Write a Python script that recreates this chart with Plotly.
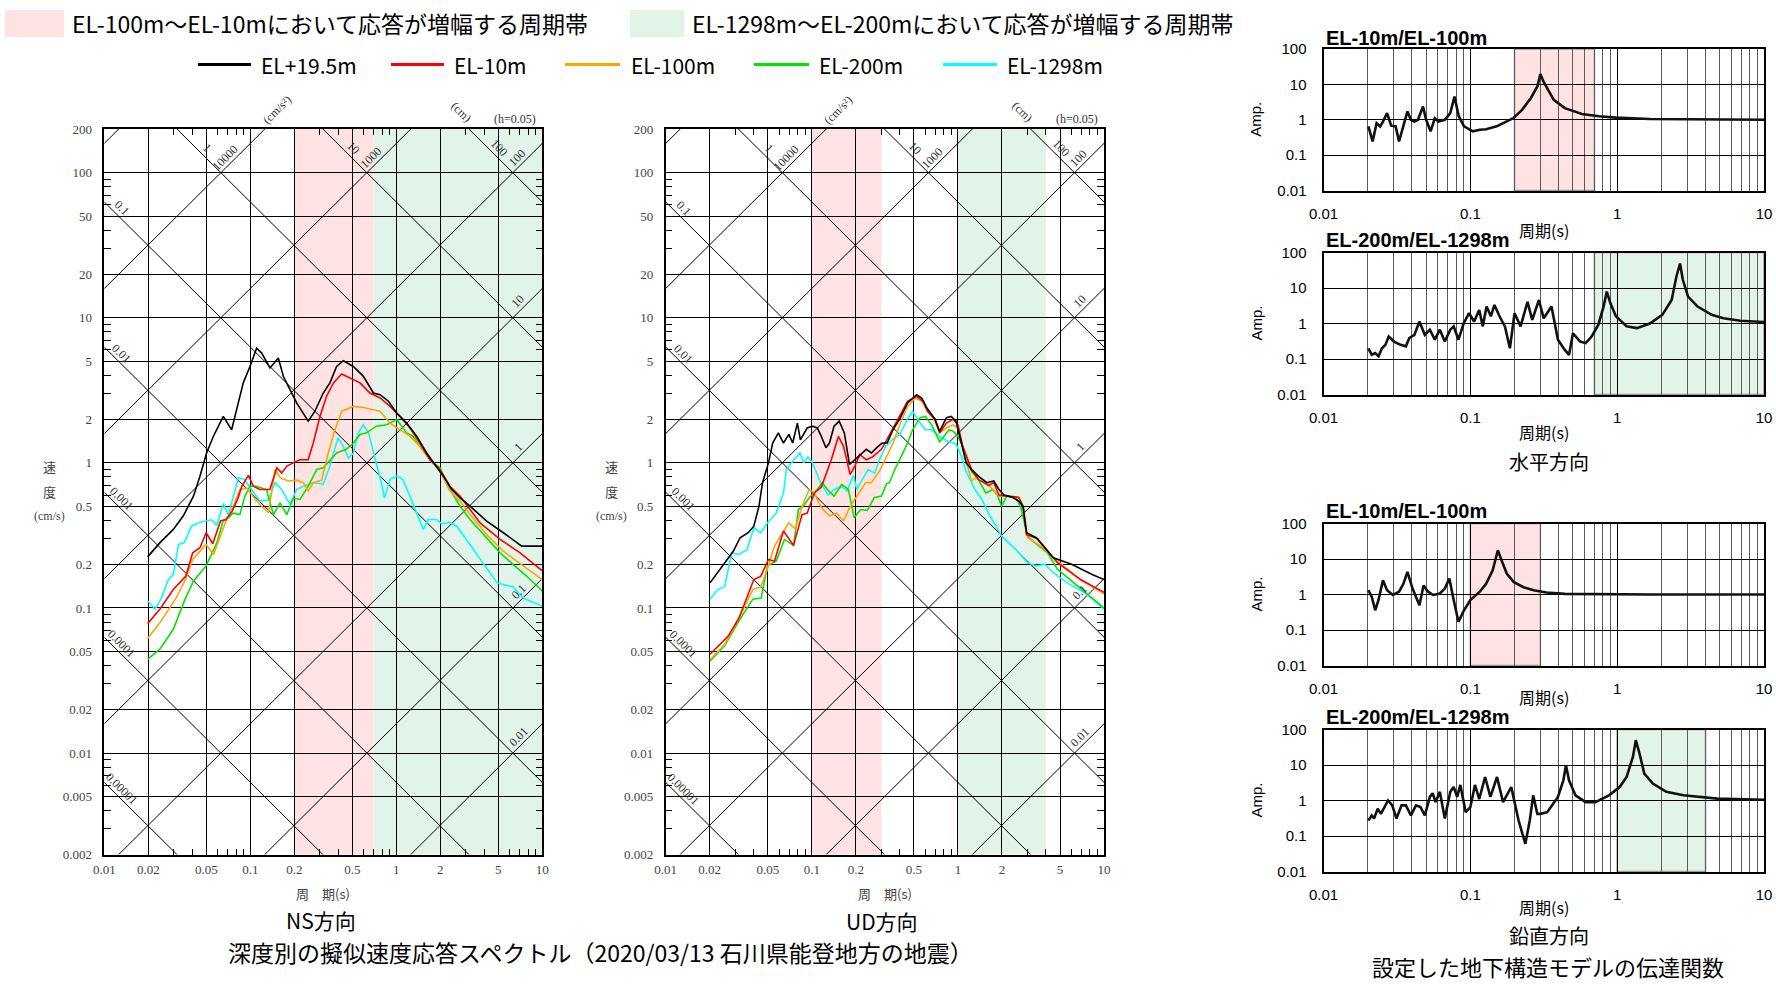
import numpy as np
import plotly.graph_objects as go

W, H = 1776, 984

# ------------------------------------------------------------------ data
# NS direction pseudo-velocity response spectra (period s, Sv cm/s)
NS_T_EL195 = [0.0198, 0.024, 0.0297, 0.0347, 0.0408, 0.0452, 0.0502, 0.0558, 0.0653, 0.0745, 0.0806, 0.0895, 0.0995, 0.1105, 0.1196, 0.1364, 0.1556, 0.1683, 0.187, 0.2076, 0.2493, 0.277, 0.316, 0.351, 0.390, 0.434, 0.508, 0.595, 0.697, 0.774, 0.883, 1.005, 1.178, 1.378, 1.614, 1.889, 2.10, 2.40, 2.735, 3.2, 4.16, 5.41, 7.23, 10]
NS_SV_EL195 = [0.225, 0.281, 0.348, 0.43, 0.59, 0.81, 1.17, 1.52, 2.09, 1.69, 2.33, 3.56, 4.62, 6.18, 5.71, 4.51, 5.28, 3.95, 3.2, 2.59, 1.94, 2.27, 3.03, 3.56, 4.62, 5.06, 4.62, 3.95, 3.03, 2.95, 2.66, 2.21, 1.88, 1.53, 1.17, 0.95, 0.81, 0.655, 0.574, 0.503, 0.397, 0.33, 0.267, 0.267]
NS_T_EL10 = [0.0198, 0.024, 0.0297, 0.0362, 0.0403, 0.0452, 0.0498, 0.0553, 0.0626, 0.068, 0.0752, 0.0825, 0.0875, 0.097, 0.105, 0.1165, 0.136, 0.152, 0.164, 0.178, 0.197, 0.219, 0.249, 0.270, 0.300, 0.333, 0.371, 0.423, 0.482, 0.564, 0.660, 0.774, 0.906, 1.06, 1.24, 1.45, 1.70, 1.99, 2.33, 2.73, 3.75, 5.14, 7.05, 10]
NS_SV_EL10 = [0.078, 0.098, 0.134, 0.166, 0.24, 0.26, 0.33, 0.277, 0.40, 0.405, 0.465, 0.574, 0.69, 0.82, 0.69, 0.655, 0.655, 0.925, 0.853, 0.95, 1.0, 1.05, 1.05, 1.37, 2.09, 2.88, 3.56, 4.10, 3.85, 3.56, 3.03, 2.80, 2.45, 2.09, 1.74, 1.37, 1.05, 0.90, 0.69, 0.59, 0.386, 0.297, 0.24, 0.18]
NS_T_EL100 = [0.0198, 0.024, 0.031, 0.036, 0.0403, 0.0498, 0.056, 0.0626, 0.068, 0.076, 0.085, 0.094, 0.1165, 0.133, 0.148, 0.160, 0.182, 0.2076, 0.2307, 0.2493, 0.270, 0.308, 0.342, 0.380, 0.423, 0.508, 0.595, 0.774, 0.906, 1.06, 1.24, 1.45, 1.70, 1.99, 2.33, 2.73, 3.2, 4.16, 5.41, 7.41, 10]
NS_SV_EL100 = [0.0615, 0.079, 0.117, 0.157, 0.216, 0.274, 0.234, 0.32, 0.395, 0.50, 0.655, 0.67, 0.517, 0.453, 0.90, 0.79, 0.75, 0.76, 0.73, 0.64, 0.73, 0.76, 1.17, 1.69, 2.27, 2.45, 2.41, 2.27, 1.88, 1.69, 1.53, 1.30, 1.05, 0.877, 0.64, 0.545, 0.44, 0.32, 0.246, 0.195, 0.157]
NS_T_EL200 = [0.0198, 0.024, 0.0297, 0.0357, 0.0408, 0.0498, 0.059, 0.0652, 0.0707, 0.076, 0.0848, 0.0919, 0.0995, 0.110, 0.129, 0.144, 0.160, 0.178, 0.197, 0.219, 0.249, 0.285, 0.316, 0.390, 0.455, 0.508, 0.564, 0.625, 0.730, 0.86, 1.005, 1.178, 1.30, 1.45, 1.70, 1.99, 2.33, 2.735, 3.2, 4.16, 5.14, 6.3, 7.8, 10]
NS_SV_EL200 = [0.0443, 0.052, 0.0713, 0.1146, 0.153, 0.195, 0.281, 0.40, 0.418, 0.45, 0.44, 0.59, 0.69, 0.69, 0.655, 0.44, 0.53, 0.44, 0.57, 0.56, 0.69, 0.90, 0.925, 1.17, 1.24, 1.37, 1.57, 1.61, 1.79, 1.83, 1.99, 1.61, 1.53, 1.30, 1.05, 0.925, 0.655, 0.503, 0.407, 0.305, 0.24, 0.2, 0.166, 0.131]
NS_T_EL1298 = [0.0198, 0.0223, 0.0247, 0.0275, 0.0297, 0.0322, 0.0352, 0.0396, 0.0452, 0.0544, 0.059, 0.0653, 0.0707, 0.076, 0.083, 0.091, 0.102, 0.1165, 0.133, 0.148, 0.164, 0.187, 0.2076, 0.2307, 0.270, 0.316, 0.351, 0.398, 0.434, 0.470, 0.508, 0.549, 0.595, 0.645, 0.719, 0.79, 0.83, 0.906, 1.005, 1.11, 1.24, 1.38, 1.53, 1.66, 1.89, 2.05, 2.33, 2.6, 3.2, 3.97, 4.9, 5.4, 6.3, 7.4, 10]
NS_SV_EL1298 = [0.112, 0.098, 0.118, 0.157, 0.17, 0.274, 0.281, 0.366, 0.39, 0.405, 0.37, 0.525, 0.44, 0.575, 0.79, 0.77, 0.655, 0.545, 0.555, 0.73, 0.655, 0.517, 0.655, 0.69, 0.73, 0.715, 0.95, 1.49, 1.30, 1.08, 1.17, 1.61, 1.83, 1.61, 1.05, 0.73, 0.574, 0.77, 0.81, 0.77, 0.59, 0.453, 0.348, 0.407, 0.407, 0.38, 0.39, 0.366, 0.274, 0.2, 0.149, 0.145, 0.14, 0.117, 0.103]

# UD direction
UD_T_EL195 = [0.0201, 0.0253, 0.029, 0.0323, 0.0367, 0.0401, 0.0435, 0.046, 0.0505, 0.054, 0.059, 0.064, 0.0696, 0.074, 0.0797, 0.0835, 0.093, 0.101, 0.109, 0.116, 0.125, 0.132, 0.142, 0.154, 0.167, 0.181, 0.197, 0.213, 0.236, 0.256, 0.277, 0.303, 0.328, 0.359, 0.400, 0.452, 0.521, 0.565, 0.61, 0.697, 0.75, 0.835, 0.90, 0.97, 1.06, 1.14, 1.24, 1.38, 1.58, 1.76, 1.91, 2.07, 2.37, 2.64, 2.79, 2.95, 3.44, 4.5, 6.0, 8.3, 10]
UD_SV_EL195 = [0.149, 0.205, 0.246, 0.305, 0.33, 0.366, 0.503, 0.73, 1.0, 1.37, 1.61, 1.37, 1.57, 1.37, 1.88, 1.44, 1.74, 1.79, 1.74, 1.53, 1.27, 1.37, 1.79, 1.94, 1.61, 0.975, 1.05, 1.14, 1.24, 1.17, 1.27, 1.37, 1.37, 1.69, 2.0, 2.59, 2.95, 2.80, 2.41, 2.0, 1.65, 2.05, 2.09, 1.94, 1.37, 1.0, 0.90, 0.81, 0.73, 0.75, 0.655, 0.6, 0.58, 0.54, 0.50, 0.33, 0.305, 0.222, 0.2, 0.17, 0.157]
UD_T_EL10 = [0.0201, 0.0268, 0.0318, 0.0401, 0.0447, 0.0505, 0.0555, 0.064, 0.075, 0.0857, 0.093, 0.104, 0.116, 0.136, 0.152, 0.165, 0.183, 0.197, 0.213, 0.236, 0.26, 0.30, 0.328, 0.36, 0.40, 0.452, 0.521, 0.58, 0.62, 0.697, 0.75, 0.835, 0.93, 1.0, 1.08, 1.24, 1.38, 1.62, 1.76, 1.91, 2.15, 2.6, 2.8, 2.95, 3.5, 4.8, 6.9, 10]
UD_SV_EL10 = [0.048, 0.064, 0.0857, 0.157, 0.165, 0.216, 0.21, 0.339, 0.27, 0.44, 0.45, 0.62, 0.68, 1.05, 1.52, 1.30, 0.83, 0.95, 1.14, 1.05, 1.1, 1.24, 1.46, 1.74, 2.09, 2.66, 2.87, 2.66, 2.27, 2.0, 1.61, 1.88, 2.0, 1.83, 1.3, 0.90, 0.77, 0.70, 0.73, 0.6, 0.59, 0.58, 0.5, 0.32, 0.3, 0.205, 0.157, 0.128]
UD_T_EL100 = [0.0201, 0.0253, 0.0316, 0.0395, 0.0447, 0.0497, 0.0555, 0.064, 0.0696, 0.077, 0.0857, 0.096, 0.104, 0.115, 0.132, 0.147, 0.165, 0.183, 0.202, 0.233, 0.256, 0.291, 0.32, 0.36, 0.40, 0.452, 0.51, 0.565, 0.62, 0.697, 0.75, 0.835, 0.93, 1.0, 1.1, 1.24, 1.38, 1.55, 1.74, 1.91, 2.15, 2.64, 2.8, 3.0, 3.7, 4.8, 6.9, 10]
UD_SV_EL100 = [0.044, 0.056, 0.084, 0.134, 0.14, 0.185, 0.267, 0.34, 0.386, 0.35, 0.50, 0.655, 0.62, 0.5, 0.43, 0.45, 0.4, 0.5, 0.58, 0.73, 0.73, 0.88, 1.07, 1.37, 1.83, 2.45, 2.8, 2.66, 2.27, 1.94, 1.61, 1.74, 1.83, 1.74, 1.17, 0.75, 0.81, 0.73, 0.655, 0.59, 0.59, 0.57, 0.5, 0.305, 0.267, 0.21, 0.157, 0.125]
UD_T_EL200 = [0.0201, 0.0253, 0.0318, 0.0395, 0.045, 0.0497, 0.057, 0.065, 0.075, 0.081, 0.0885, 0.096, 0.109, 0.118, 0.128, 0.142, 0.16, 0.178, 0.195, 0.216, 0.24, 0.267, 0.3, 0.325, 0.34, 0.37, 0.415, 0.452, 0.49, 0.55, 0.6, 0.66, 0.75, 0.87, 0.93, 1.0, 1.08, 1.24, 1.38, 1.55, 1.74, 1.88, 1.99, 2.15, 2.5, 2.7, 3.0, 4.1, 4.8, 6.9, 10]
UD_SV_EL200 = [0.043, 0.055, 0.082, 0.115, 0.117, 0.195, 0.21, 0.297, 0.27, 0.477, 0.51, 0.575, 0.655, 0.73, 0.655, 0.59, 0.71, 0.655, 0.418, 0.477, 0.47, 0.575, 0.59, 0.72, 0.73, 0.90, 1.14, 1.37, 1.69, 2.05, 2.09, 1.83, 1.40, 1.69, 1.65, 1.53, 1.3, 0.87, 0.77, 0.62, 0.655, 0.59, 0.50, 0.59, 0.58, 0.49, 0.31, 0.24, 0.185, 0.137, 0.1]
UD_T_EL1298 = [0.0201, 0.0227, 0.0253, 0.0283, 0.0316, 0.036, 0.0401, 0.0447, 0.0497, 0.057, 0.064, 0.067, 0.077, 0.083, 0.088, 0.094, 0.101, 0.115, 0.129, 0.142, 0.16, 0.174, 0.193, 0.203, 0.222, 0.243, 0.27, 0.29, 0.32, 0.36, 0.40, 0.452, 0.49, 0.54, 0.6, 0.66, 0.75, 0.835, 0.97, 1.06, 1.14, 1.31, 1.46, 1.62, 2.0, 2.5, 3.0, 3.45, 3.95, 4.5, 5.6, 7.6, 10]
UD_SV_EL1298 = [0.115, 0.134, 0.14, 0.24, 0.234, 0.252, 0.357, 0.33, 0.386, 0.45, 0.62, 0.9, 1.08, 1.17, 1.0, 1.1, 1.0, 0.73, 0.60, 0.655, 0.69, 0.64, 0.82, 0.655, 0.77, 0.90, 0.85, 1.05, 1.3, 1.46, 1.57, 2.0, 2.27, 1.94, 1.69, 1.69, 1.53, 1.42, 1.35, 1.1, 0.87, 0.655, 0.56, 0.45, 0.31, 0.252, 0.205, 0.195, 0.2, 0.175, 0.149, 0.125, 0.098]

# Transfer functions of the subsurface model (period s, amplitude)
TF_H1_T = [0.0202, 0.0216, 0.023, 0.0243, 0.0254, 0.0271, 0.0289, 0.031, 0.0327, 0.035, 0.0373, 0.0394, 0.0416, 0.044, 0.0476, 0.05, 0.0536, 0.0573, 0.0606, 0.067, 0.073, 0.078, 0.0834, 0.0906, 0.104, 0.116, 0.128, 0.151, 0.179, 0.196, 0.225, 0.258, 0.286, 0.30, 0.315, 0.346, 0.37, 0.44, 0.575, 0.75, 0.98, 1.67, 2.86, 4.8, 10]
TF_H1_A = [0.65, 0.245, 0.8, 0.65, 0.89, 1.54, 0.68, 0.65, 0.245, 0.65, 1.72, 1.0, 0.89, 1.0, 2.38, 1.0, 0.47, 1.1, 0.89, 1.0, 1.54, 4.5, 1.26, 0.65, 0.47, 0.52, 0.54, 0.65, 0.89, 1.1, 1.9, 4.07, 8.7, 19.5, 12, 6.3, 3.66, 2.13, 1.45, 1.25, 1.15, 1.05, 1.02, 1.0, 1.0]
TF_H2_T = [0.0202, 0.0213, 0.0225, 0.0237, 0.025, 0.0264, 0.0278, 0.0302, 0.0335, 0.0364, 0.0384, 0.0416, 0.045, 0.049, 0.053, 0.0573, 0.062, 0.067, 0.073, 0.077, 0.083, 0.09, 0.098, 0.106, 0.115, 0.1215, 0.129, 0.138, 0.146, 0.158, 0.172, 0.186, 0.20, 0.22, 0.245, 0.264, 0.293, 0.316, 0.357, 0.395, 0.44, 0.47, 0.5, 0.56, 0.61, 0.67, 0.745, 0.808, 0.85, 0.90, 0.98, 1.16, 1.36, 1.67, 2.03, 2.35, 2.53, 2.68, 2.80, 3.04, 3.53, 4.4, 5.3, 6.9, 10]
TF_H2_A = [0.2, 0.132, 0.147, 0.12, 0.2, 0.25, 0.43, 0.31, 0.25, 0.227, 0.39, 0.48, 1.14, 0.48, 0.67, 0.35, 0.67, 0.31, 0.67, 0.83, 0.35, 1.0, 1.95, 1.14, 2.4, 0.83, 3.0, 1.6, 3.33, 1.6, 0.83, 0.2, 1.95, 0.83, 4.1, 1.26, 4.6, 1.4, 3.0, 0.35, 0.18, 0.13, 0.53, 0.31, 0.28, 0.43, 0.93, 3.0, 7.9, 3.7, 1.6, 0.83, 0.74, 1.0, 1.75, 4.6, 20.8, 49, 17, 5.7, 3.0, 1.75, 1.4, 1.2, 1.1]
TF_V1_T = [0.0202, 0.0213, 0.0225, 0.0237, 0.0254, 0.0271, 0.0297, 0.0327, 0.035, 0.0373, 0.0404, 0.045, 0.048, 0.0515, 0.0558, 0.062, 0.067, 0.072, 0.077, 0.083, 0.0905, 0.1, 0.116, 0.128, 0.142, 0.154, 0.163, 0.177, 0.197, 0.23, 0.27, 0.33, 0.44, 0.75, 1.67, 10]
TF_V1_A = [1.32, 0.87, 0.36, 0.7, 2.5, 1.32, 0.97, 1.2, 2.0, 4.35, 1.47, 0.5, 1.8, 1.2, 0.97, 1.07, 1.47, 2.8, 0.7, 0.17, 0.36, 0.7, 1.2, 2.0, 4.8, 17.7, 9.3, 3.9, 2.27, 1.6, 1.32, 1.14, 1.04, 1.02, 1.0, 1.0]
TF_V2_T = [0.0202, 0.0213, 0.0221, 0.0234, 0.0246, 0.026, 0.0275, 0.0294, 0.0314, 0.034, 0.0364, 0.0394, 0.0426, 0.0458, 0.049, 0.053, 0.0554, 0.058, 0.062, 0.067, 0.073, 0.077, 0.0813, 0.0855, 0.093, 0.1, 0.1075, 0.115, 0.126, 0.137, 0.152, 0.167, 0.19, 0.213, 0.237, 0.254, 0.268, 0.286, 0.30, 0.334, 0.395, 0.43, 0.448, 0.47, 0.52, 0.61, 0.71, 0.88, 1.04, 1.16, 1.28, 1.34, 1.42, 1.53, 1.75, 2.16, 2.83, 4.8, 10]
TF_V2_A = [0.275, 0.38, 0.31, 0.59, 0.42, 0.65, 1.0, 0.73, 0.31, 0.73, 0.73, 0.38, 0.73, 0.65, 0.38, 1.26, 1.6, 0.9, 1.75, 0.31, 1.75, 2.4, 1.26, 2.75, 0.47, 0.65, 2.75, 1.1, 4.6, 1.26, 4.6, 0.9, 2.4, 0.275, 0.06, 0.275, 1.4, 0.42, 0.42, 0.47, 1.26, 3.7, 9.8, 3.7, 1.4, 0.9, 0.9, 1.4, 2.4, 4.6, 16.9, 50, 21, 5.7, 3.0, 1.75, 1.4, 1.13, 1.05]

# Amplified period bands (s)
NS_PINK_BAND = [0.2, 0.7]
NS_GREEN_BAND = [0.7, 10]
UD_PINK_BAND = [0.1, 0.3]
UD_GREEN_BAND = [1.0, 4.0]

SERIES_NAMES = ["EL+19.5m", "EL-10m", "EL-100m", "EL-200m", "EL-1298m"]
SERIES_COLORS = ["#000000", "#ff0000", "#ffa500", "#00e600", "#00ffff"]
PINK = "#ffe3e3"
GREEN = "#e2f4ea"

TRI_XTICKS = [0.01, 0.02, 0.05, 0.1, 0.2, 0.5, 1, 2, 5, 10]
TRI_YTICKS = [200, 100, 50, 20, 10, 5, 2, 1, 0.5, 0.2, 0.1, 0.05, 0.02, 0.01, 0.005, 0.002]
DISP_LABELS = ["0.00001", "0.0001", "0.001", "0.01", "0.1", "1", "10", "100"]
ACC_LABELS = ["0.01", "0.1", "1", "10", "100", "1000", "10000"]

JP = "Noto Sans CJK JP"
SERIF = "Liberation Serif"
SANS = "Liberation Sans"


def px(x):
    return x / W


def py(y):
    return 1 - y / H


fig = go.Figure()

# ------------------------------------------------------------ axes layout
TRI_X = {1: (104.3, 542.3), 2: (665.7, 1104.0)}
TRI_Y = (129.0, 854.5)
RP_X = (1323.5, 1764.0)
RP_Y = {3: (49.0, 190.5), 4: (252.5, 394.5), 5: (523.5, 665.5), 6: (729.5, 871.5)}

minor_x = [m * 10.0 ** e for e in (-2, -1, 0) for m in (3, 4, 6, 7, 8, 9)]
minor_y = [m * 10.0 ** e for e in range(-3, 3) for m in (3, 4, 6, 7, 8, 9)]
minor_y = [v for v in minor_y if 0.002 < v < 200]
rp_minor = [m * 10.0 ** e for e in (-2, -1, 0) for m in range(2, 10)]

layout_axes = {}
for n in (1, 2):
    s = "" if n == 1 else str(n)
    layout_axes["xaxis" + s] = dict(
        type="log", range=[-2, 1], domain=[px(TRI_X[n][0]), px(TRI_X[n][1])],
        anchor="y" + s, tickvals=TRI_XTICKS, ticktext=[str(v) for v in TRI_XTICKS],
        showgrid=True, gridcolor="black", gridwidth=1, zeroline=False, automargin=False,
        showline=True, linecolor="black", linewidth=1.5, mirror="ticks",
        ticks="", tickfont=dict(family=SERIF, size=13, color="#444"),
        minor=dict(tickvals=minor_x, ticks="inside", ticklen=6, tickcolor="black",
                   tickwidth=1, showgrid=False),
        ticklabelstandoff=2,
    )
    layout_axes["yaxis" + s] = dict(
        type="log", range=[np.log10(0.002), np.log10(200)],
        domain=[py(TRI_Y[1]), py(TRI_Y[0])], anchor="x" + s,
        tickvals=TRI_YTICKS, ticktext=[str(v) for v in TRI_YTICKS],
        showgrid=True, gridcolor="black", gridwidth=1, zeroline=False, automargin=False,
        showline=True, linecolor="black", linewidth=1.5, mirror="ticks",
        ticks="", tickfont=dict(family=SERIF, size=13, color="#444"),
        minor=dict(tickvals=minor_y, ticks="inside", ticklen=7, tickcolor="black",
                   tickwidth=1, showgrid=False),
        ticklabelstandoff=8,
    )

for n in (3, 4, 5, 6):
    s = str(n)
    layout_axes["xaxis" + s] = dict(
        type="log", range=[-2, 1], domain=[px(RP_X[0]), px(RP_X[1])], anchor="y" + s,
        tickvals=[0.01, 0.1, 1, 10], ticktext=["0.01", "0.1", "1", "10"],
        showgrid=True, gridcolor="black", gridwidth=1, zeroline=False, automargin=False,
        showline=True, linecolor="black", linewidth=2, mirror=True, ticks="",
        tickfont=dict(family=SANS, size=15, color="black"),
        minor=dict(tickvals=rp_minor, showgrid=True, gridcolor="#5a5a5a", gridwidth=1, ticks=""),
        ticklabelstandoff=8,
    )
    layout_axes["yaxis" + s] = dict(
        type="log", range=[-2, 2], domain=[py(RP_Y[n][1]), py(RP_Y[n][0])], anchor="x" + s,
        tickvals=[0.01, 0.1, 1, 10, 100], ticktext=["0.01", "0.1", "1", "10", "100"],
        showgrid=True, gridcolor="black", gridwidth=1, zeroline=False, automargin=False,
        showline=True, linecolor="black", linewidth=2, mirror=True, ticks="",
        tickfont=dict(family=SANS, size=15, color="black"),
        ticklabelstandoff=12,
    )

# ------------------------------------------------------------ bands (shapes)
shapes = []


def band(xref, yref, lo_hi, color, outline=None):
    shapes.append(dict(
        type="rect", xref=xref, yref=yref + " domain", x0=lo_hi[0], x1=lo_hi[1], y0=0, y1=1,
        fillcolor=color, layer="below",
        line=dict(width=1.5 if outline else 0, color=outline or color),
    ))


band("x", "y", NS_PINK_BAND, PINK)
band("x", "y", NS_GREEN_BAND, GREEN)
band("x2", "y2", UD_PINK_BAND, PINK)
band("x2", "y2", UD_GREEN_BAND, GREEN)
band("x3", "y3", NS_PINK_BAND, PINK, "#9a9a9a")
band("x4", "y4", NS_GREEN_BAND, GREEN, "#9a9a9a")
band("x5", "y5", UD_PINK_BAND, PINK, "#9a9a9a")
band("x6", "y6", UD_GREEN_BAND, GREEN, "#9a9a9a")

annotations = []

# ------------------------------------------------------------ tripartite diagonals
for n in (1, 2):
    s = "" if n == 1 else str(n)
    xs, ys = [], []
    for k in range(-5, 3):   # constant displacement lines, Sv = 2*pi*D/T
        D = 10.0 ** k
        for T in (0.01, 10.0):
            xs.append(T)
            ys.append(2 * np.pi * D / T)
        xs.append(None)
        ys.append(None)
    for k in range(-2, 6):   # constant acceleration lines, Sv = A*T/(2*pi)
        A = 10.0 ** k
        for T in (0.01, 10.0):
            xs.append(T)
            ys.append(A * T / (2 * np.pi))
        xs.append(None)
        ys.append(None)
    fig.add_trace(go.Scatter(x=xs, y=ys, mode="lines", line=dict(color="black", width=1),
                             xaxis="x" + s, yaxis="y" + s, hoverinfo="skip", showlegend=False))
    for lab in DISP_LABELS:
        D = float(lab)
        T = max(0.0122, 2 * np.pi * D / 134.0)
        annotations.append(dict(
            x=np.log10(T), y=np.log10(2 * np.pi * D / T), xref="x" + s, yref="y" + s,
            text=lab, showarrow=False, textangle=45, xshift=5, yshift=6,
            font=dict(family=SERIF, size=12, color="#333")))
    for lab in ACC_LABELS:
        A = float(lab)
        T = min(7.4, 115.0 * 2 * np.pi / A)
        annotations.append(dict(
            x=np.log10(T), y=np.log10(A * T / (2 * np.pi)), xref="x" + s, yref="y" + s,
            text=lab, showarrow=False, textangle=-45, xshift=-5, yshift=6,
            font=dict(family=SERIF, size=12, color="#333")))

# ------------------------------------------------------------ spectra curves
NS = [(NS_T_EL195, NS_SV_EL195), (NS_T_EL10, NS_SV_EL10), (NS_T_EL100, NS_SV_EL100),
      (NS_T_EL200, NS_SV_EL200), (NS_T_EL1298, NS_SV_EL1298)]
UD = [(UD_T_EL195, UD_SV_EL195), (UD_T_EL10, UD_SV_EL10), (UD_T_EL100, UD_SV_EL100),
      (UD_T_EL200, UD_SV_EL200), (UD_T_EL1298, UD_SV_EL1298)]
order = [4, 3, 2, 1, 0]
for s, data in (("", NS), ("2", UD)):
    for i in order:
        T, SV = data[i]
        fig.add_trace(go.Scatter(x=T, y=SV, mode="lines", name=SERIES_NAMES[i],
                                 line=dict(color=SERIES_COLORS[i], width=1.6),
                                 xaxis="x" + s, yaxis="y" + s, showlegend=False))

for n, (T, A) in zip((3, 4, 5, 6), ((TF_H1_T, TF_H1_A), (TF_H2_T, TF_H2_A),
                                    (TF_V1_T, TF_V1_A), (TF_V2_T, TF_V2_A))):
    fig.add_trace(go.Scatter(x=T, y=A, mode="lines", line=dict(color="#111", width=2.6),
                             xaxis="x" + str(n), yaxis="y" + str(n), showlegend=False))


# ------------------------------------------------------------ text
def text(x, y, t, size, family=JP, color="black", anchor="center", angle=0, bold=False):
    if bold:
        t = "<b>" + t + "</b>"
    annotations.append(dict(x=px(x), y=py(y), xref="paper", yref="paper", text=t,
                            showarrow=False, xanchor=anchor, yanchor="middle", textangle=angle,
                            font=dict(family=family, size=size, color=color)))


for x0 in (104.3, 665.7):
    text(x0 + 172.5, 110, "(cm/s²)", 12, SERIF, "#333", angle=-45)
    text(x0 + 357, 112, "(cm)", 12, SERIF, "#333", angle=45)
    text(x0 + 411, 119, "(h=0.05)", 12, SERIF, "#333")
    text(x0 - 54.5, 466, "速", 13, JP, "#444")
    text(x0 - 54.5, 491, "度", 13, JP, "#444")
    text(x0 - 54.5, 516, "(cm/s)", 12, SERIF, "#444")
    text(x0 + 219, 893, "周　期(s)", 13, JP, "#444")

text(321, 920, "NS方向", 21)
text(882, 921, "UD方向", 21)
text(600, 952, "深度別の擬似速度応答スペクトル（2020/03/13 石川県能登地方の地震）", 23)

titles = {3: (38.5, "EL-10m/EL-100m"), 4: (240.5, "EL-200m/EL-1298m"),
          5: (511.5, "EL-10m/EL-100m"), 6: (717.0, "EL-200m/EL-1298m")}
xlab_y = {3: 229.5, 4: 432.5, 5: 697.0, 6: 907.0}
for n in (3, 4, 5, 6):
    text(1324, titles[n][0], titles[n][1], 20, SANS, anchor="left", bold=True)
    text(1543.7, xlab_y[n], "周期(s)", 16)
    text(1256, (RP_Y[n][0] + RP_Y[n][1]) / 2, "Amp.", 15, SANS, angle=-90)
text(1549, 461, "水平方向", 20)
text(1549, 935, "鉛直方向", 20)
text(1548, 966, "設定した地下構造モデルの伝達関数", 22)

# ------------------------------------------------------------ legend (drawn in paper space)
shapes.append(dict(type="rect", xref="paper", yref="paper", x0=px(5), x1=px(64), y0=py(37), y1=py(10),
                   fillcolor=PINK, line=dict(width=0)))
shapes.append(dict(type="rect", xref="paper", yref="paper", x0=px(630), x1=px(684), y0=py(37), y1=py(10),
                   fillcolor=GREEN, line=dict(width=0)))
text(70, 23, "EL-100m～EL-10mにおいて応答が増幅する周期帯", 23, anchor="left")
text(690, 23, "EL-1298m～EL-200mにおいて応答が増幅する周期帯", 23, anchor="left")
leg_x = [(198, 251, 259), (391, 444, 452), (565, 620, 629), (754, 809, 817), (943, 997, 1005)]
for i, (a, b, t) in enumerate(leg_x):
    shapes.append(dict(type="line", xref="paper", yref="paper", x0=px(a), x1=px(b), y0=py(64.5), y1=py(64.5),
                       line=dict(color=SERIES_COLORS[i], width=3)))
    text(t, 64.5, SERIES_NAMES[i], 21, anchor="left")

fig.update_layout(
    width=W, height=H, autosize=False, margin=dict(l=0, r=0, t=0, b=0, pad=0, autoexpand=False),
    paper_bgcolor="white", plot_bgcolor="white", showlegend=False,
    shapes=shapes, annotations=annotations, **layout_axes,
)

fig.write_html(
    "out.html",
    config={"displayModeBar": False},
    post_script="document.body.style.margin='0';document.body.style.overflow='hidden';",
)
